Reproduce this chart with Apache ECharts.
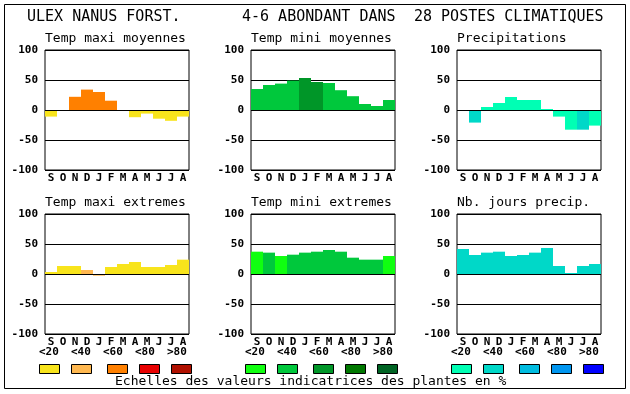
<!DOCTYPE html>
<html><head><meta charset="utf-8">
<script src="https://cdn.jsdelivr.net/npm/echarts@6/dist/echarts.min.js"></script>
<style>html,body{margin:0;padding:0;background:#fff}#c{width:630px;height:394px}</style>
</head><body><div id="c"></div>
<script>
var months = ['S','O','N','D','J','F','M','A','M','J','J','A'];
var yTicks = [-100, -50, 0, 50, 100];
var classLabels = ['<20','<40','<60','<80','>80'];

var titles = ['Temp maxi moyennes','Temp mini moyennes','Precipitations','Temp maxi extremes','Temp mini extremes','Nb. jours precip.'];

var tempMaxiMoy = [-11, -1, 22, 34, 30, 15.5, -1, -12, -6, -14.5, -18, -11];
var tempMaxiMoyClass = [0,0,2,2,2,2,0,0,0,0,0,0];
var tempMiniMoy = [35, 41.7, 44, 49, 53.3, 46.7, 45, 33, 23, 10, 6.7, 16.7];
var tempMiniMoyClass = [1,1,1,1,2,2,1,1,1,1,1,1];
var precip = [0, -21, 5, 11.7, 21.7, 16.7, 16.7, 1.7, -11, -32.8, -32.8, -26];
var precipClass = [0,1,0,0,0,0,0,0,0,0,1,0];
var tempMaxiExt = [3.3, 13.3, 13.3, 6.7, -2.8, 11.7, 16.7, 20, 11.7, 11.7, 15, 23.9];
var tempMaxiExtClass = [0,0,0,1,1,0,0,0,0,0,0,0];
var tempMiniExt = [37.2, 35.6, 30, 32.2, 35.6, 37.2, 40, 37.2, 27.2, 23.9, 23.9, 30];
var tempMiniExtClass = [0,1,0,1,1,1,1,1,1,1,1,0];
var nbJours = [41.7, 31.7, 35.6, 37.2, 30, 31.7, 35.6, 43.3, 13.3, 1.7, 13.3, 16.7];
var nbJoursClass = [1,1,1,1,1,1,1,1,1,1,1,1];

var warm = ['#f8e41c','#ffb850','#ff8000','#e80000','#b01000'];
var green = ['#10ff10','#00c83c','#009628','#007800','#006424'];
var blue = ['#00ffb4','#00d8c8','#00bce0','#0096f0','#0000ff'];

var panels = [
  {vals: tempMaxiMoy, cls: tempMaxiMoyClass, pal: warm},
  {vals: tempMiniMoy, cls: tempMiniMoyClass, pal: green},
  {vals: precip, cls: precipClass, pal: blue},
  {vals: tempMaxiExt, cls: tempMaxiExtClass, pal: warm},
  {vals: tempMiniExt, cls: tempMiniExtClass, pal: green},
  {vals: nbJours, cls: nbJoursClass, pal: blue}
];
var lefts = [45, 251, 457];
var tops = [50, 214];
var FONT = 'DejaVu Sans Mono';

var grids = [], xAxes = [], yAxes = [], series = [], graphics = [];
panels.forEach(function(p, i){
  var col = i % 3, row = Math.floor(i / 3);
  grids.push({left: lefts[col], top: tops[row], width: 144, height: 120, show: true,
    borderColor: '#000', borderWidth: 1, backgroundColor: '#fff', containLabel: false});
  xAxes.push({type: 'category', gridIndex: i, data: months, position: 'bottom',
    axisLine: {show: false}, axisTick: {show: false}, splitLine: {show: false},
    axisLabel: {interval: 0, margin: 3, color: '#000', fontFamily: FONT, fontWeight: 'bold', fontSize: 11}});
  yAxes.push({type: 'value', gridIndex: i, min: yTicks[0], max: yTicks[yTicks.length-1], interval: 50,
    axisLine: {show: false}, axisTick: {show: false},
    splitLine: {show: true, lineStyle: {color: '#000', width: 1}},
    axisLabel: {margin: 7, color: '#000', fontFamily: FONT, fontWeight: 'bold', fontSize: 11}});
  series.push({type: 'bar', xAxisIndex: i, yAxisIndex: i, barCategoryGap: '0%', animation: false,
    data: p.vals.map(function(v, k){ return {value: v, itemStyle: {color: p.pal[p.cls[k]]}}; }),
    markLine: {silent: true, symbol: 'none', animation: false, label: {show: false},
      lineStyle: {color: '#000', width: 1, type: 'solid'}, data: [{yAxis: 0}]}});
  graphics.push({type: 'text', left: lefts[col], top: tops[row] - 18,
    style: {text: titles[i], font: '13px "' + FONT + '"', fill: '#000'}});
});

// legends
var labelX = [[39,71,103,135,167],[245,277,309,341,373],[451,483,515,547,579]];
var boxX = [[39,71,107,139,171],[245,277,313,345,377],[451,483,519,551,583]];
var pals = [warm, green, blue];
for (var c = 0; c < 3; c++) {
  for (var k = 0; k < 5; k++) {
    graphics.push({type: 'text', left: labelX[c][k], top: 347,
      style: {text: classLabels[k], font: 'bold 11px "' + FONT + '"', fill: '#000'}});
    graphics.push({type: 'rect', shape: {x: boxX[c][k] + 0.5, y: 364.5, width: 20, height: 9},
      style: {fill: pals[c][k], stroke: '#000', lineWidth: 1}});
  }
}
graphics.push({type: 'text', left: 115, top: 375,
  style: {text: 'Echelles des valeurs indicatrices des plantes en %', font: '13px "' + FONT + '"', fill: '#000'}});
// main titles
graphics.push({type: 'text', left: 27, top: 10, style: {text: 'ULEX NANUS FORST.', font: '15px "' + FONT + '"', fill: '#000'}});
graphics.push({type: 'text', left: 242, top: 10, style: {text: '4-6 ABONDANT DANS', font: '15px "' + FONT + '"', fill: '#000'}});
graphics.push({type: 'text', left: 414, top: 10, style: {text: '28 POSTES CLIMATIQUES', font: '15px "' + FONT + '"', fill: '#000'}});
// frame
graphics.push({type: 'rect', z: -1, shape: {x: 4.5, y: 4.5, width: 621, height: 384},
  style: {fill: 'none', stroke: '#000', lineWidth: 1}});

var chart = echarts.init(document.getElementById('c'), null, {renderer: 'canvas'});
chart.setOption({animation: false, backgroundColor: '#fff', grid: grids, xAxis: xAxes, yAxis: yAxes, series: series, graphic: graphics});
</script></body></html>
